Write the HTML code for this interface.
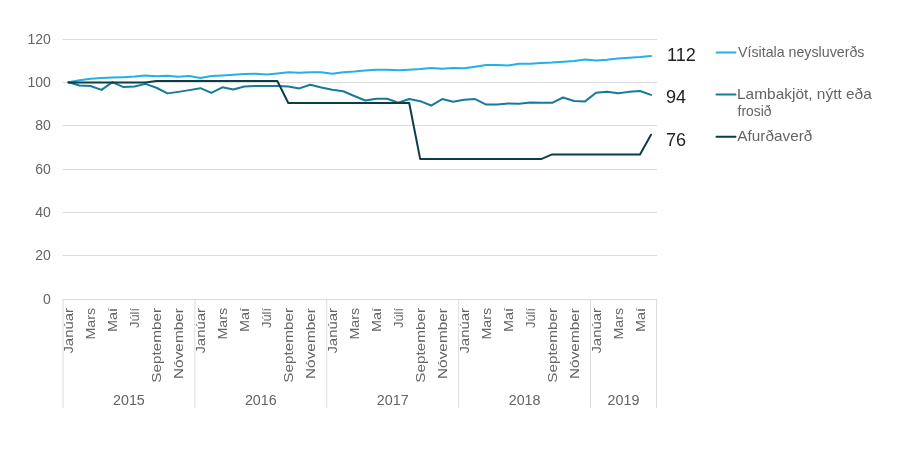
<!DOCTYPE html><html><head><meta charset="utf-8"><title>Chart</title><style>html,body{margin:0;padding:0;background:#fff}svg{display:block}text{font-family:"Liberation Sans",sans-serif}</style></head><body>
<svg width="900" height="475" viewBox="0 0 900 475">
<rect width="900" height="475" fill="#fff"/>
<line x1="62.5" x2="657.0" y1="299.50" y2="299.50" stroke="#dcdcdc" stroke-width="1"/>
<text x="50.8" y="303.80" font-size="14" fill="#646464" text-anchor="end">0</text>
<line x1="62.5" x2="657.0" y1="255.50" y2="255.50" stroke="#dcdcdc" stroke-width="1"/>
<text x="50.8" y="260.47" font-size="14" fill="#646464" text-anchor="end">20</text>
<line x1="62.5" x2="657.0" y1="212.50" y2="212.50" stroke="#dcdcdc" stroke-width="1"/>
<text x="50.8" y="217.13" font-size="14" fill="#646464" text-anchor="end">40</text>
<line x1="62.5" x2="657.0" y1="169.50" y2="169.50" stroke="#dcdcdc" stroke-width="1"/>
<text x="50.8" y="173.80" font-size="14" fill="#646464" text-anchor="end">60</text>
<line x1="62.5" x2="657.0" y1="125.50" y2="125.50" stroke="#dcdcdc" stroke-width="1"/>
<text x="50.8" y="130.47" font-size="14" fill="#646464" text-anchor="end">80</text>
<line x1="62.5" x2="657.0" y1="82.50" y2="82.50" stroke="#dcdcdc" stroke-width="1"/>
<text x="50.8" y="87.13" font-size="14" fill="#646464" text-anchor="end">100</text>
<line x1="62.5" x2="657.0" y1="39.50" y2="39.50" stroke="#dcdcdc" stroke-width="1"/>
<text x="50.8" y="43.80" font-size="14" fill="#646464" text-anchor="end">120</text>
<line x1="63.00" x2="63.00" y1="299.5" y2="408" stroke="#dcdcdc" stroke-width="1"/>
<line x1="194.89" x2="194.89" y1="299.5" y2="408" stroke="#dcdcdc" stroke-width="1"/>
<line x1="326.78" x2="326.78" y1="299.5" y2="408" stroke="#dcdcdc" stroke-width="1"/>
<line x1="458.67" x2="458.67" y1="299.5" y2="408" stroke="#dcdcdc" stroke-width="1"/>
<line x1="590.56" x2="590.56" y1="299.5" y2="408" stroke="#dcdcdc" stroke-width="1"/>
<line x1="656.50" x2="656.50" y1="299.5" y2="408" stroke="#dcdcdc" stroke-width="1"/>
<text transform="translate(73.40,308) rotate(-90)" font-size="13.5" fill="#646464" text-anchor="end" textLength="45.6" lengthAdjust="spacingAndGlyphs">Janúar</text>
<text transform="translate(95.38,308) rotate(-90)" font-size="13.5" fill="#646464" text-anchor="end" textLength="31.6" lengthAdjust="spacingAndGlyphs">Mars</text>
<text transform="translate(117.36,308) rotate(-90)" font-size="13.5" fill="#646464" text-anchor="end" textLength="24.1" lengthAdjust="spacingAndGlyphs">Maí</text>
<text transform="translate(139.34,308) rotate(-90)" font-size="13.5" fill="#646464" text-anchor="end" textLength="20.0" lengthAdjust="spacingAndGlyphs">Júlí</text>
<text transform="translate(161.32,308) rotate(-90)" font-size="13.5" fill="#646464" text-anchor="end" textLength="74.8" lengthAdjust="spacingAndGlyphs">September</text>
<text transform="translate(183.30,308) rotate(-90)" font-size="13.5" fill="#646464" text-anchor="end" textLength="71.0" lengthAdjust="spacingAndGlyphs">Nóvember</text>
<text transform="translate(205.28,308) rotate(-90)" font-size="13.5" fill="#646464" text-anchor="end" textLength="45.6" lengthAdjust="spacingAndGlyphs">Janúar</text>
<text transform="translate(227.27,308) rotate(-90)" font-size="13.5" fill="#646464" text-anchor="end" textLength="31.6" lengthAdjust="spacingAndGlyphs">Mars</text>
<text transform="translate(249.25,308) rotate(-90)" font-size="13.5" fill="#646464" text-anchor="end" textLength="24.1" lengthAdjust="spacingAndGlyphs">Maí</text>
<text transform="translate(271.23,308) rotate(-90)" font-size="13.5" fill="#646464" text-anchor="end" textLength="20.0" lengthAdjust="spacingAndGlyphs">Júlí</text>
<text transform="translate(293.21,308) rotate(-90)" font-size="13.5" fill="#646464" text-anchor="end" textLength="74.8" lengthAdjust="spacingAndGlyphs">September</text>
<text transform="translate(315.19,308) rotate(-90)" font-size="13.5" fill="#646464" text-anchor="end" textLength="71.0" lengthAdjust="spacingAndGlyphs">Nóvember</text>
<text transform="translate(337.17,308) rotate(-90)" font-size="13.5" fill="#646464" text-anchor="end" textLength="45.6" lengthAdjust="spacingAndGlyphs">Janúar</text>
<text transform="translate(359.15,308) rotate(-90)" font-size="13.5" fill="#646464" text-anchor="end" textLength="31.6" lengthAdjust="spacingAndGlyphs">Mars</text>
<text transform="translate(381.14,308) rotate(-90)" font-size="13.5" fill="#646464" text-anchor="end" textLength="24.1" lengthAdjust="spacingAndGlyphs">Maí</text>
<text transform="translate(403.12,308) rotate(-90)" font-size="13.5" fill="#646464" text-anchor="end" textLength="20.0" lengthAdjust="spacingAndGlyphs">Júlí</text>
<text transform="translate(425.10,308) rotate(-90)" font-size="13.5" fill="#646464" text-anchor="end" textLength="74.8" lengthAdjust="spacingAndGlyphs">September</text>
<text transform="translate(447.08,308) rotate(-90)" font-size="13.5" fill="#646464" text-anchor="end" textLength="71.0" lengthAdjust="spacingAndGlyphs">Nóvember</text>
<text transform="translate(469.06,308) rotate(-90)" font-size="13.5" fill="#646464" text-anchor="end" textLength="45.6" lengthAdjust="spacingAndGlyphs">Janúar</text>
<text transform="translate(491.04,308) rotate(-90)" font-size="13.5" fill="#646464" text-anchor="end" textLength="31.6" lengthAdjust="spacingAndGlyphs">Mars</text>
<text transform="translate(513.02,308) rotate(-90)" font-size="13.5" fill="#646464" text-anchor="end" textLength="24.1" lengthAdjust="spacingAndGlyphs">Maí</text>
<text transform="translate(535.01,308) rotate(-90)" font-size="13.5" fill="#646464" text-anchor="end" textLength="20.0" lengthAdjust="spacingAndGlyphs">Júlí</text>
<text transform="translate(556.99,308) rotate(-90)" font-size="13.5" fill="#646464" text-anchor="end" textLength="74.8" lengthAdjust="spacingAndGlyphs">September</text>
<text transform="translate(578.97,308) rotate(-90)" font-size="13.5" fill="#646464" text-anchor="end" textLength="71.0" lengthAdjust="spacingAndGlyphs">Nóvember</text>
<text transform="translate(600.95,308) rotate(-90)" font-size="13.5" fill="#646464" text-anchor="end" textLength="45.6" lengthAdjust="spacingAndGlyphs">Janúar</text>
<text transform="translate(622.93,308) rotate(-90)" font-size="13.5" fill="#646464" text-anchor="end" textLength="31.6" lengthAdjust="spacingAndGlyphs">Mars</text>
<text transform="translate(644.91,308) rotate(-90)" font-size="13.5" fill="#646464" text-anchor="end" textLength="24.1" lengthAdjust="spacingAndGlyphs">Maí</text>
<text x="128.94" y="404.7" font-size="14" fill="#646464" text-anchor="middle" textLength="31.8" lengthAdjust="spacingAndGlyphs">2015</text>
<text x="260.83" y="404.7" font-size="14" fill="#646464" text-anchor="middle" textLength="31.8" lengthAdjust="spacingAndGlyphs">2016</text>
<text x="392.72" y="404.7" font-size="14" fill="#646464" text-anchor="middle" textLength="31.8" lengthAdjust="spacingAndGlyphs">2017</text>
<text x="524.61" y="404.7" font-size="14" fill="#646464" text-anchor="middle" textLength="31.8" lengthAdjust="spacingAndGlyphs">2018</text>
<text x="623.53" y="404.7" font-size="14" fill="#646464" text-anchor="middle" textLength="31.8" lengthAdjust="spacingAndGlyphs">2019</text>
<path d="M68.50,82.33 L79.49,80.17 L90.48,78.65 L101.47,78.00 L112.46,77.57 L123.45,77.13 L134.44,76.48 L145.43,75.40 L156.42,76.27 L167.41,75.83 L178.40,76.70 L189.39,76.05 L200.38,78.00 L211.38,76.05 L222.37,75.40 L233.36,74.75 L244.35,74.10 L255.34,73.78 L266.33,74.53 L277.32,73.45 L288.31,72.37 L299.30,72.80 L310.29,72.37 L321.28,72.15 L332.27,73.67 L343.26,72.15 L354.25,71.50 L365.25,70.42 L376.24,69.77 L387.23,69.77 L398.22,70.20 L409.21,69.77 L420.20,69.12 L431.19,68.03 L442.18,68.68 L453.17,68.03 L464.16,68.25 L475.15,66.73 L486.14,65.00 L497.13,65.00 L508.12,65.43 L519.12,63.70 L530.11,63.70 L541.10,62.94 L552.09,62.62 L563.08,61.75 L574.07,61.10 L585.06,59.58 L596.05,60.45 L607.04,59.80 L618.03,58.50 L629.02,57.63 L640.01,56.98 L651.00,55.90" fill="none" stroke="#23b0e6" stroke-width="2" stroke-linecap="round" stroke-linejoin="round"/>
<path d="M68.50,82.33 L79.49,85.58 L90.48,86.02 L101.47,89.92 L112.46,82.12 L123.45,87.10 L134.44,86.45 L145.43,83.85 L156.42,87.75 L167.41,93.38 L178.40,91.87 L189.39,90.13 L200.38,88.18 L211.38,92.95 L222.37,87.32 L233.36,89.48 L244.35,86.45 L255.34,86.02 L266.33,86.02 L277.32,86.02 L288.31,86.45 L299.30,88.40 L310.29,84.72 L321.28,87.53 L332.27,89.70 L343.26,91.22 L354.25,95.98 L365.25,100.53 L376.24,98.80 L387.23,98.80 L398.22,102.70 L409.21,99.02 L420.20,101.18 L431.19,105.52 L442.18,99.02 L453.17,101.83 L464.16,99.67 L475.15,99.02 L486.14,104.54 L497.13,104.54 L508.12,103.57 L519.12,103.78 L530.11,102.48 L541.10,102.81 L552.09,102.81 L563.08,97.50 L574.07,100.97 L585.06,101.40 L596.05,92.73 L607.04,91.76 L618.03,93.28 L629.02,91.87 L640.01,91.00 L651.00,94.90" fill="none" stroke="#177a98" stroke-width="2" stroke-linecap="round" stroke-linejoin="round"/>
<path d="M68.50,82.40 L79.49,82.40 L90.48,82.40 L101.47,82.40 L112.46,82.40 L123.45,82.40 L134.44,82.40 L145.43,82.40 L156.42,81.00 L167.41,81.00 L178.40,81.00 L189.39,81.00 L200.38,81.00 L211.38,81.00 L222.37,81.00 L233.36,81.00 L244.35,81.00 L255.34,81.00 L266.33,81.00 L277.32,81.00 L288.31,103.00 L299.30,103.00 L310.29,103.00 L321.28,103.00 L332.27,103.00 L343.26,103.00 L354.25,103.00 L365.25,103.00 L376.24,103.00 L387.23,103.00 L398.22,103.00 L409.21,103.00 L420.20,159.10 L431.19,159.10 L442.18,159.10 L453.17,159.10 L464.16,159.10 L475.15,159.10 L486.14,159.10 L497.13,159.10 L508.12,159.10 L519.12,159.10 L530.11,159.10 L541.10,159.10 L552.09,154.40 L563.08,154.40 L574.07,154.40 L585.06,154.40 L596.05,154.40 L607.04,154.40 L618.03,154.40 L629.02,154.40 L640.01,154.40 L651.00,134.70" fill="none" stroke="#0d3d45" stroke-width="2" stroke-linecap="round" stroke-linejoin="round"/>
<text x="667.0" y="60.7" font-size="18" fill="#222">112</text>
<text x="666.0" y="102.8" font-size="18" fill="#222">94</text>
<text x="666.0" y="145.6" font-size="18" fill="#222">76</text>
<line x1="716.5" x2="735.5" y1="52.4" y2="52.4" stroke="#23b0e6" stroke-width="2" stroke-linecap="round"/>
<line x1="716.5" x2="735.5" y1="94.6" y2="94.6" stroke="#177a98" stroke-width="2" stroke-linecap="round"/>
<line x1="716.5" x2="735.5" y1="136.7" y2="136.7" stroke="#0d3d45" stroke-width="2" stroke-linecap="round"/>
<text x="738" y="56.8" font-size="13.9" fill="#646464" textLength="126.4" lengthAdjust="spacingAndGlyphs">Vísitala neysluverðs</text>
<text x="737" y="99.2" font-size="13.9" fill="#646464" textLength="134.8" lengthAdjust="spacingAndGlyphs">Lambakjöt, nýtt eða</text>
<text x="737.6" y="115.6" font-size="13.9" fill="#646464" textLength="33.8" lengthAdjust="spacingAndGlyphs">frosið</text>
<text x="737.3" y="141.0" font-size="13.9" fill="#646464" textLength="75.0" lengthAdjust="spacingAndGlyphs">Afurðaverð</text>
</svg></body></html>
